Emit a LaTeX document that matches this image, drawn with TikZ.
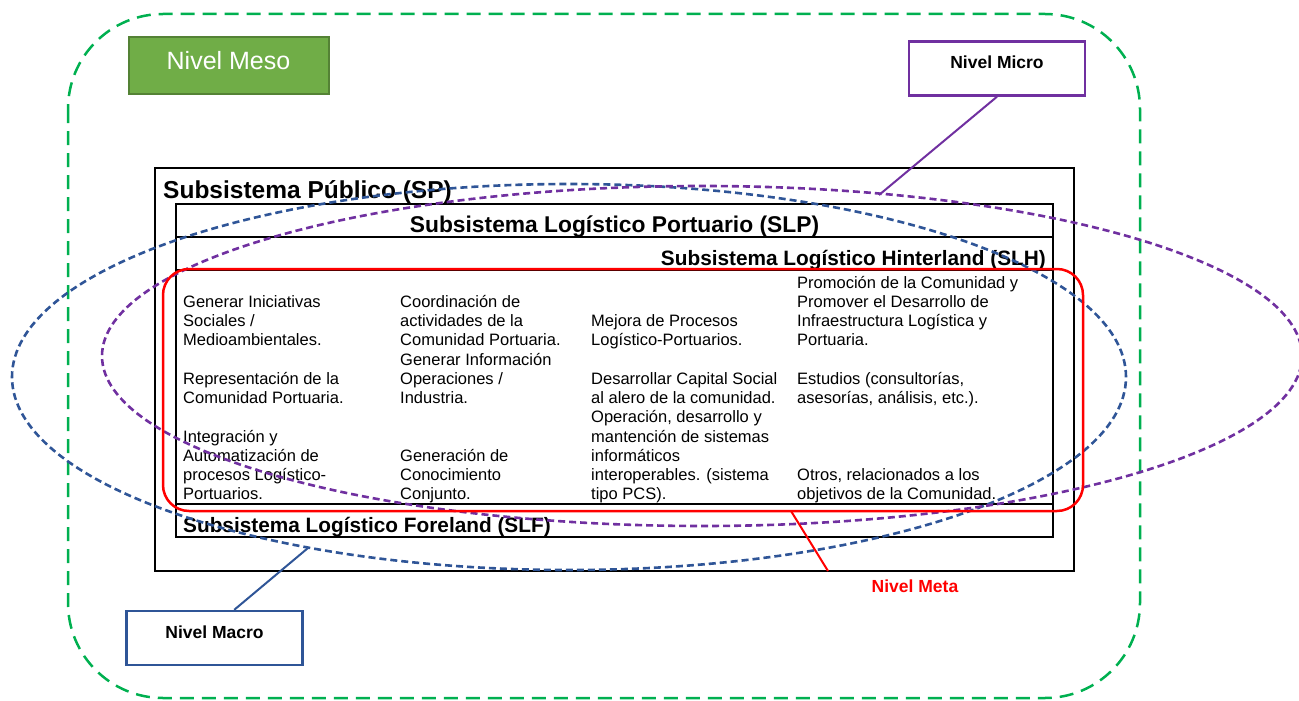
\documentclass[tikz,border=0pt]{standalone}
\usepackage{fontspec}
\setmainfont{Liberation Sans}
\definecolor{mesogreen}{RGB}{0,176,80}
\definecolor{mesofill}{RGB}{112,173,71}
\definecolor{mesoedge}{RGB}{84,130,53}
\definecolor{micropurple}{RGB}{112,48,160}
\definecolor{macroblue}{RGB}{47,85,151}
\begin{document}
\begin{tikzpicture}[x=1pt,y=-1pt,
  cell/.style={anchor=base west,inner sep=0pt,align=left,font=\fontsize{16.5}{19.25}\selectfont},
  head/.style={inner sep=0pt,font=\bfseries\fontsize{20.8}{24}\selectfont},
  levelbox/.style={draw,line width=2.4pt,minimum width=176pt,minimum height=54pt,
    text height=12pt,text depth=12pt,font=\bfseries\fontsize{17.5}{20}\selectfont},
  ring/.style={line width=2.6pt,dash pattern=on 7pt off 4pt}]
  \useasboundingbox (0,0) rectangle (1299,701);
  \draw[mesogreen,line width=2.5pt,dash pattern=on 14pt off 8pt,rounded corners=95pt] (68,14) rectangle (1140,698);
  \node[fill=mesofill,draw=mesoedge,line width=2pt,minimum width=200pt,minimum height=57pt,
    text=white,font=\fontsize{25}{28}\selectfont,text height=18pt,text depth=10pt] (meso) at (228.5,66) {Nivel Meso};
  \node[levelbox,draw=micropurple] (micro) at (997,68.5) {Nivel Micro};
  \node[levelbox,draw=macroblue] (macro) at (214.5,638) {Nivel Macro};
  \node[inner sep=0pt,text=red,font=\bfseries\fontsize{17.5}{20}\selectfont] (meta) at (915,586) {Nivel Meta};

  \draw[line width=1.6pt] (155,168) rectangle (1074,571);
  \node[head,anchor=base west,font=\bfseries\fontsize{24.5}{28}\selectfont] (sp) at (163,198) {Subsistema Público (SP)};
  \draw[line width=1.3pt] (176,204) rectangle (1053,537);
  \draw[line width=1.3pt] (176,237) -- (1053,237) (176,270) -- (1053,270) (176,504) -- (1053,504);
  \node[head,anchor=base,font=\bfseries\fontsize{22.8}{26}\selectfont] (slp) at (614.5,232) {Subsistema Logístico Portuario (SLP)};
  \node[head,anchor=base east] (slh) at (1046,265) {Subsistema Logístico Hinterland (SLH)};
  \node[head,anchor=base west] (slf) at (183,532) {Subsistema Logístico Foreland (SLF)};

  \node[cell] (gen) at (183,345.75) {Generar Iniciativas\\Sociales /\\Medioambientales.};
  \node[cell] (rep) at (183,403.5) {Representación de la\\Comunidad Portuaria.};
  \node[cell] (integ) at (183,499.75) {Integración y\\Automatización de\\procesos Logístico-\\Portuarios.};
  \node[cell] (coord) at (400,403.5) {Coordinación de\\actividades de la\\Comunidad Portuaria.\\Generar Información\\Operaciones /\\Industria.};
  \node[cell] (conoc) at (400,499.75) {Generación de\\Conocimiento\\Conjunto.};
  \node[cell] (mejora) at (591,345.75) {Mejora de Procesos\\Logístico-Portuarios.};
  \node[cell] (capital) at (591,499.75) {Desarrollar Capital Social\\al alero de la comunidad.\\Operación, desarrollo y\\mantención de sistemas\\informáticos\\interoperables. (sistema\\tipo PCS).};
  \node[cell] (promo) at (797,345.75) {Promoción de la Comunidad y\\Promover el Desarrollo de\\Infraestructura Logística y\\Portuaria.};
  \node[cell] (estud) at (797,403.5) {Estudios (consultorías,\\asesorías, análisis, etc.).};
  \node[cell] (otros) at (797,499.75) {Otros, relacionados a los\\objetivos de la Comunidad.};

  \draw[ring,macroblue] (569,377) ellipse [x radius=557pt,y radius=193pt];
  \draw[ring,micropurple] (702,356) ellipse [x radius=600pt,y radius=170pt];
  \draw[red,line width=2.5pt,rounded corners=26pt] (163,269) rectangle (1083,511);

  \coordinate (microtip) at (879,195);
  \coordinate (macrotip) at (308,548);
  \coordinate (metatop) at (791,511);
  \coordinate (metaend) at (828,571);
  \draw[micropurple,line width=2pt] (micro.south) -- (microtip);
  \draw[macroblue,line width=2pt] (macro.55) -- (macrotip);
  \draw[red,line width=2pt] (metatop) -- (metaend);
\end{tikzpicture}
\end{document}
